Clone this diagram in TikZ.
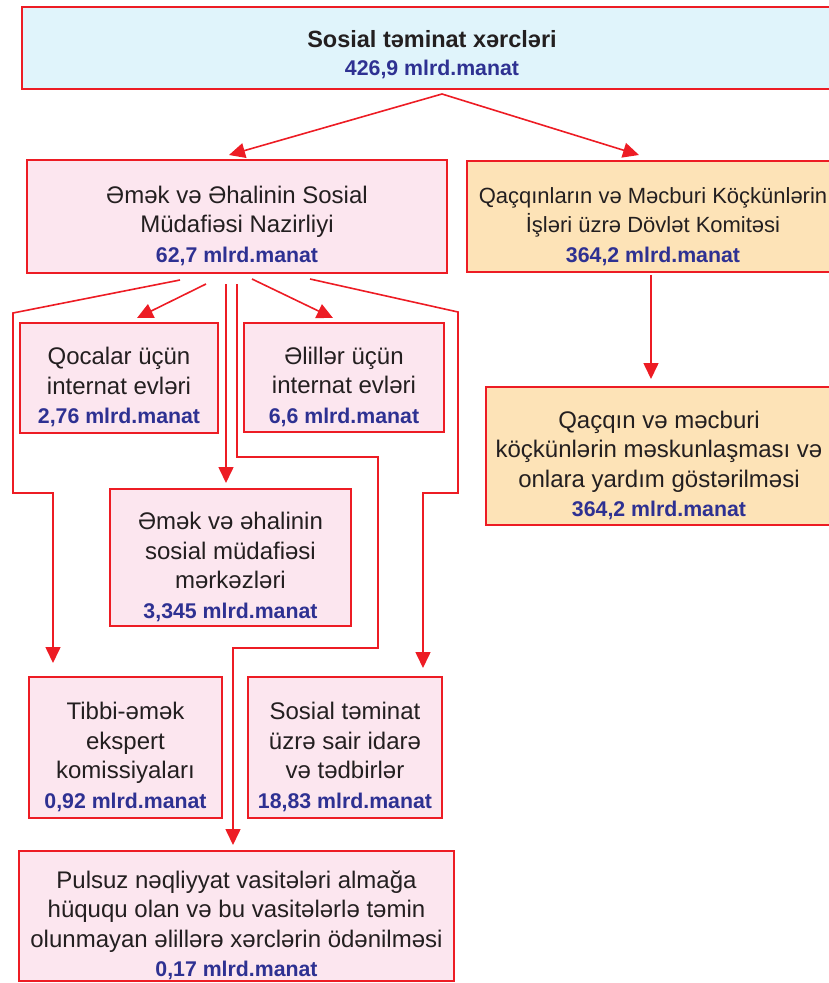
\documentclass[tikz,border=0pt]{standalone}
\usepackage{fontspec}
\setmainfont{Liberation Sans}
\usetikzlibrary{calc,arrows.meta}
\definecolor{bred}{HTML}{ED1C24}
\definecolor{amt}{HTML}{2E3192}
\definecolor{cyanfill}{HTML}{E0F4FB}
\definecolor{pinkfill}{HTML}{FCE6EF}
\definecolor{orangefill}{HTML}{FDE3B7}
\definecolor{txt}{HTML}{231F20}
\newcommand{\amnt}[1]{{\fontsize{21.3}{29.5}\selectfont\bfseries\color{amt}#1}}
\newcommand{\fl}{\rule{0pt}{36pt}}
\tikzset{
  box/.style={draw=bred, line width=1.7pt, inner sep=0pt, outer sep=0pt, anchor=north west, align=center,
    text=txt, font=\fontsize{24}{29.5}\selectfont},
  pinkbox/.style={box, fill=pinkfill},
  orangebox/.style={box, fill=orangefill},
  cyanbox/.style={box, fill=cyanfill},
  conn/.style={draw=bred, line width=1.6pt},
  arr/.style={conn, -{Triangle[length=16pt,width=15pt]}},
}
\begin{document}
\begin{tikzpicture}[x=1pt,y=-1pt]
\useasboundingbox (0,0) rectangle (829,983);
\clip (0,0) rectangle (829,983);
% boxes
\node[cyanbox, minimum width=820pt, minimum height=82pt] (top) at (22,7)
  {\rule{0pt}{30pt}{\fontsize{23.5}{29.5}\selectfont\bfseries Sosial təminat xərcləri}\\[-1pt]\amnt{426,9 mlrd.manat}};
\node[pinkbox, minimum width=420pt, minimum height=113pt] (min) at (27,160)
  {\fl Əmək və Əhalinin Sosial\\Müdafiəsi Nazirliyi\\\amnt{62,7 mlrd.manat}};
\node[orangebox, minimum width=372pt, minimum height=111pt, font=\fontsize{22}{29.5}\selectfont] (qcom) at (467,161)
  {\fl Qaçqınların və Məcburi Köçkünlərin\\İşləri üzrə Dövlət Komitəsi\\\amnt{364,2 mlrd.manat}};
\node[orangebox, minimum width=346pt, minimum height=138pt] (qac) at (486,387)
  {\fl Qaçqın və məcburi\\köçkünlərin məskunlaşması və\\onlara yardım göstərilməsi\\\amnt{364,2 mlrd.manat}};
\node[pinkbox, minimum width=198pt, minimum height=110pt] (qoc) at (20,323)
  {\fl Qocalar üçün\\internat evləri\\\amnt{2,76 mlrd.manat}};
\node[pinkbox, minimum width=200pt, minimum height=109pt] (eli) at (244,323)
  {\fl Əlillər üçün\\internat evləri\\\amnt{6,6 mlrd.manat}};
\node[pinkbox, minimum width=241pt, minimum height=137pt] (mer) at (110,489)
  {\fl Əmək və əhalinin\\sosial müdafiəsi\\mərkəzləri\\\amnt{3,345 mlrd.manat}};
\node[pinkbox, minimum width=193pt, minimum height=141pt] (tib) at (29,677)
  {\fl Tibbi-əmək\\ekspert\\komissiyaları\\\amnt{0,92 mlrd.manat}};
\node[pinkbox, minimum width=194pt, minimum height=141pt] (sos) at (248,677)
  {\fl Sosial təminat\\üzrə sair idarə\\və tədbirlər\\\amnt{18,83 mlrd.manat}};
\node[pinkbox, minimum width=435pt, minimum height=130pt] (pul) at (19,851)
  {\fl Pulsuz nəqliyyat vasitələri almağa\\hüququ olan və bu vasitələrlə təmin\\olunmayan əlillərə xərclərin ödənilməsi\\\amnt{0,17 mlrd.manat}};
% connector start points
\coordinate (apex) at ($(top.south)+(10,5)$);
\coordinate (s1) at (180,280);
\coordinate (s2) at (206,284);
\coordinate (s3) at (226,284);
\coordinate (s4) at (237,284);
\coordinate (s5) at (252,279);
\coordinate (s6) at (310,279);
% connectors
\draw[arr] (apex) -- ($(min.north)+(-8,-5)$);
\draw[arr] (apex) -- ($(qcom.north)+(-14,-6)$);
\draw[arr] ($(qcom.south)+(-2,3)$) -- ($(qac.north)+(-8,-8)$);
\draw[arr] (s1) -- (13,313) -- (13,493) -- (53,493) -- ($(tib.north west)+(24,-14)$);
\draw[arr] (s2) -- ($(qoc.north)+(18,-5)$);
\draw[arr] (s3) -- ($(mer.north)+(-4.5,-6)$);
\draw[arr] (s4) -- (237,457) -- (378,457) -- (378,648) -- (233,648) -- ($(pul.north)+(-3.5,-6)$);
\draw[arr] (s5) -- ($(eli.north)+(-11,-5)$);
\draw[arr] (s6) -- (458,312) -- (458,493) -- (423,493) -- ($(sos.north east)+(-19,-9)$);
\end{tikzpicture}
\end{document}
